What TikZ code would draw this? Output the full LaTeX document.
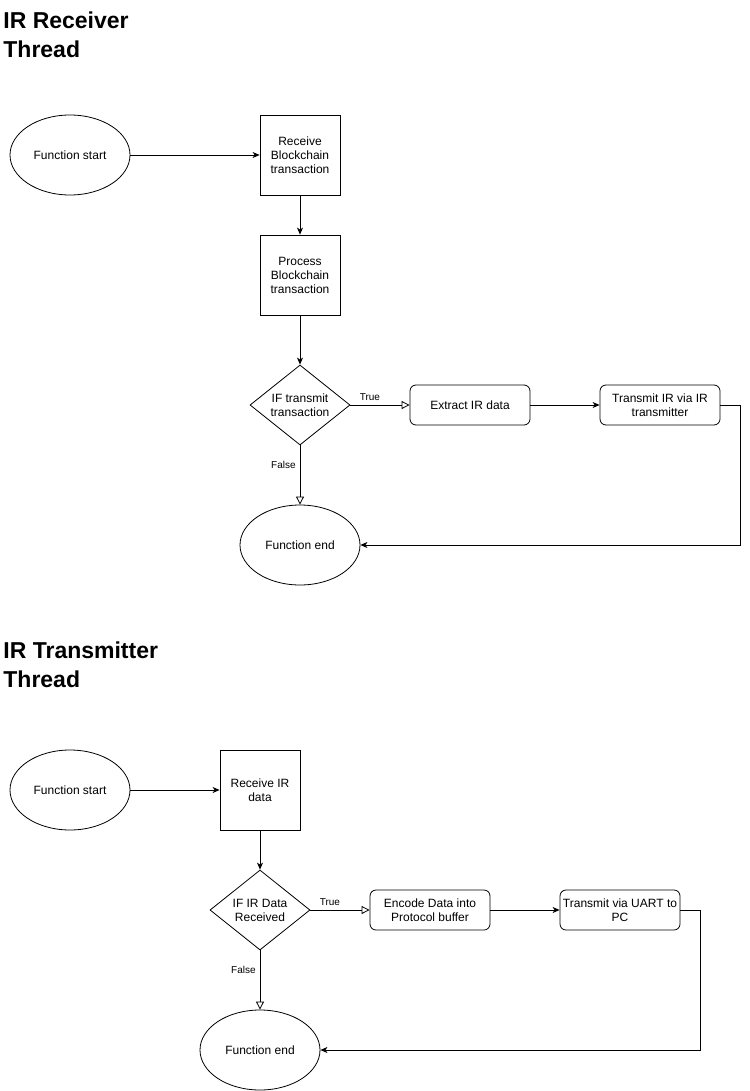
\documentclass[tikz,border=0pt]{standalone}
\usepackage{fontspec}
\setmainfont{Liberation Sans}
\usetikzlibrary{arrows.meta,shapes.geometric}
\begin{document}
\begin{tikzpicture}[x=1pt,y=-1pt,
  every node/.style={font=\fontsize{12}{14}\selectfont, align=center},
  ell/.style={draw, ellipse, minimum width=120pt, minimum height=80pt, inner sep=0pt},
  sq/.style={draw, rectangle, minimum width=80pt, minimum height=80pt, inner sep=0pt},
  rbox/.style={draw, rectangle, rounded corners=6pt, minimum width=120pt, minimum height=40pt, inner sep=0pt},
  dia/.style={draw, diamond, minimum width=100pt, minimum height=80pt, inner sep=0pt, aspect=1.25},
  title/.style={font=\fontsize{23}{29}\selectfont\bfseries, align=left, anchor=north west, inner sep=0pt},
  lbl/.style={font=\fontsize{10}{12}\selectfont, inner sep=0pt},
  arr/.style={-{Stealth[length=7pt,width=6pt,inset=2pt]}, line width=0.8pt},
  oarr/.style={-{Triangle[open,length=8pt,width=8pt]}, line width=0.8pt},
  every path/.style={line width=0.8pt}
]
\useasboundingbox (0,0) rectangle (749,1091);
% ---- Receiver
\node[title] (t1) at (3,11.5) {IR Receiver\\Thread};
\node[ell] (s1) at (70,155) {Function start};
\node[sq] (r1) at (300,155) {Receive\\Blockchain\\transaction};
\node[sq] (p1) at (300,275) {Process\\Blockchain\\transaction};
\node[dia] (d1) at (300,405) {IF transmit\\transaction};
\node[rbox] (e1) at (470,405) {Extract IR data};
\node[rbox] (x1) at (660,405) {Transmit IR via IR\\transmitter};
\node[ell] (f1) at (300,545) {Function end};
\coordinate (c1) at (740,405);
\coordinate (c2) at (740,545);
\draw[arr] (s1) -- (r1);
\draw[arr] (r1) -- (p1);
\draw[arr] (p1) -- (d1);
\draw[oarr] (d1.east) -- node[lbl, pos=0.33, above=4pt] {True} (e1.west);
\draw[arr] (e1) -- (x1);
\draw[oarr] (d1.south) -- node[lbl, pos=0.33, left=4pt] {False} (f1.north);
\draw[arr] (x1.east) -- (c1) -- (c2) -- (f1.east);
% ---- Transmitter
\node[title] (t2) at (3,641.5) {IR Transmitter\\Thread};
\node[ell] (s2) at (70,790) {Function start};
\node[sq] (r2) at (260,790) {Receive IR\\data};
\node[dia] (d2) at (260,910) {IF IR Data\\Received};
\node[rbox] (e2) at (430,910) {Encode Data into\\Protocol buffer};
\node[rbox] (x2) at (620,910) {Transmit via UART to\\PC};
\node[ell] (f2) at (260,1050) {Function end};
\coordinate (c3) at (700,910);
\coordinate (c4) at (700,1050);
\draw[arr] (s2) -- (r2);
\draw[arr] (r2) -- (d2);
\draw[oarr] (d2.east) -- node[lbl, pos=0.33, above=4pt] {True} (e2.west);
\draw[arr] (e2) -- (x2);
\draw[oarr] (d2.south) -- node[lbl, pos=0.33, left=4pt] {False} (f2.north);
\draw[arr] (x2.east) -- (c3) -- (c4) -- (f2.east);
\end{tikzpicture}
\end{document}
